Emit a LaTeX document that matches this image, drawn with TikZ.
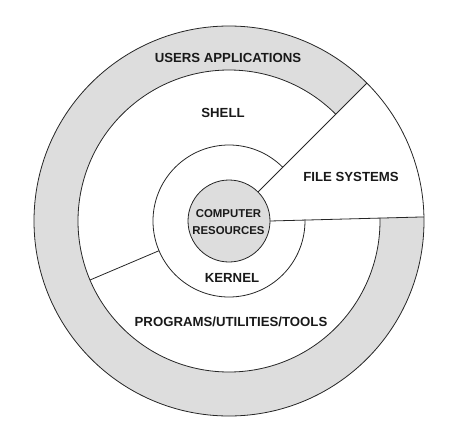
\documentclass[tikz,border=0pt]{standalone}
\usepackage{fontspec}
\setmainfont{Liberation Sans}
\definecolor{ringgray}{RGB}{221,221,221}
\tikzset{
  layer/.style={draw=black!85,line width=0.8pt},
  label/.style={font=\bfseries\fontsize{13.2}{16}\selectfont,text=black!90,inner sep=0pt},
  corelabel/.style={font=\bfseries\fontsize{11.4}{17}\selectfont,text=black!90,inner sep=0pt,align=center}
}

\begin{document}
\begin{tikzpicture}[x=1pt,y=1pt]
  \pgfmathsetmacro{\rCore}{41};
  \pgfmathsetmacro{\rKernel}{76};
  \pgfmathsetmacro{\rShell}{151};
  \pgfmathsetmacro{\rUser}{195};
  \pgfmathsetmacro{\phiLow}{1.2};
  \pgfmathsetmacro{\phiHigh}{45};
  \pgfmathsetmacro{\phiProg}{203};
  \useasboundingbox (-229,-216) rectangle (228,221);
  % outer ring, open where the file systems wedge is
  \fill[ringgray] (\phiHigh:\rUser) arc[start angle=\phiHigh, end angle={360+\phiLow}, radius=\rUser]
    -- ({360+\phiLow}:\rShell) arc[start angle={360+\phiLow}, end angle=\phiHigh, radius=\rShell] -- cycle;
  \draw[layer] (0,0) circle (\rUser);
  \draw[layer] (\phiHigh:\rShell) arc[start angle=\phiHigh, end angle={360+\phiLow}, radius=\rShell];
  \draw[layer] (\phiHigh:\rKernel) arc[start angle=\phiHigh, end angle={360+\phiLow}, radius=\rKernel];
  \draw[layer,fill=ringgray] (0,0) circle (\rCore);
  % wedge borders
  \draw[layer] (\phiHigh:\rCore) -- (\phiHigh:\rUser);
  \draw[layer] (0:\rCore) -- (\phiLow:\rUser);
  \draw[layer] (\phiProg:\rKernel) -- (\phiProg:\rShell);
  % labels
  \node[label] (users) at (-1,163) {USERS APPLICATIONS};
  \node[label] (shell) at (-6,108) {SHELL};
  \node[label] (files) at (122,44) {FILE SYSTEMS};
  \node[corelabel] (core) at (-0.5,-1.5) {COMPUTER\\RESOURCES};
  \node[label] (kernel) at (3,-57) {KERNEL};
  \node[label] (progs) at (2,-101) {PROGRAMS/UTILITIES/TOOLS};
\end{tikzpicture}
\end{document}
